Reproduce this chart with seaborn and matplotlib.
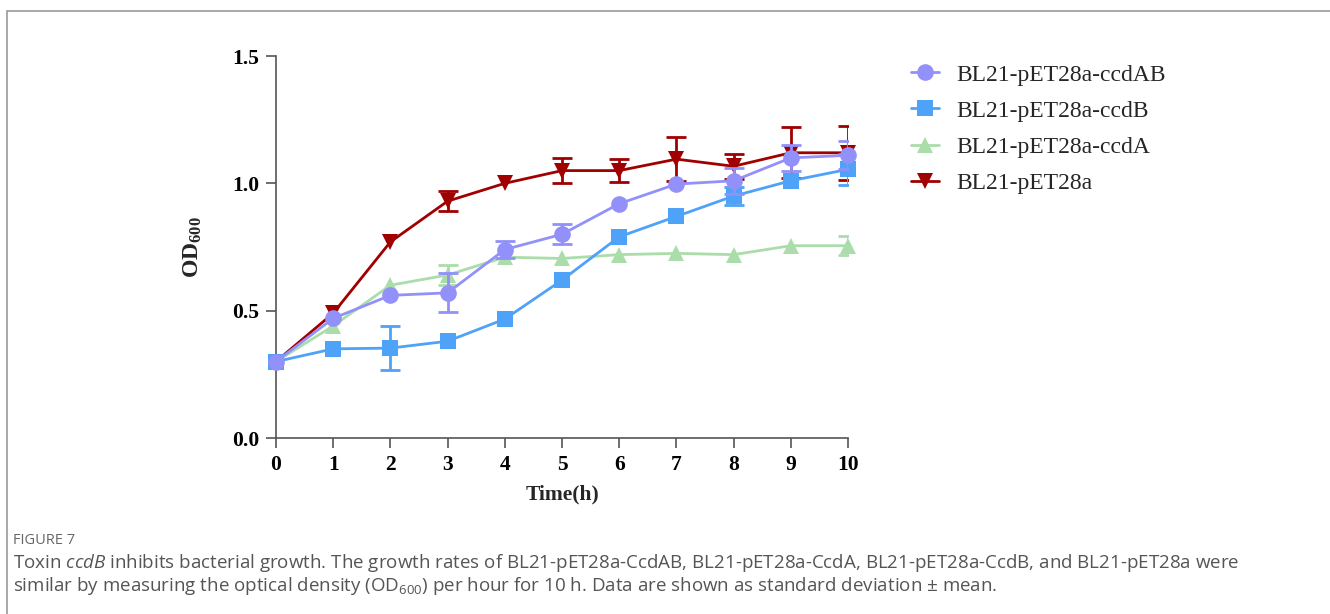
import matplotlib
matplotlib.use("Agg")
from matplotlib import pyplot as plt
import matplotlib.patches as mpatches
import numpy as np
import pandas as pd
import seaborn as sns

# Time points (h)
hours = [0, 1, 2, 3, 4, 5, 6, 7, 8, 9, 10]

# Mean OD600 per strain
od_ccdAB = [0.30, 0.47, 0.56, 0.57, 0.74, 0.80, 0.92, 0.997, 1.01, 1.10, 1.11]
od_ccdB = [0.30, 0.35, 0.353, 0.38, 0.467, 0.62, 0.79, 0.87, 0.95, 1.01, 1.055]
od_ccdA = [0.30, 0.44, 0.60, 0.64, 0.71, 0.705, 0.72, 0.725, 0.72, 0.755, 0.755]
od_pET28a = [0.30, 0.49, 0.77, 0.93, 1.00, 1.05, 1.05, 1.095, 1.067, 1.12, 1.12]

# Standard deviations (0 = no visible bar)
sd_ccdAB = [0, 0, 0, 0.077, 0.033, 0.04, 0, 0, 0.05, 0.05, 0.055]
sd_ccdB = [0, 0, 0.087, 0, 0, 0, 0, 0, 0.035, 0, 0.06]
sd_ccdA = [0, 0, 0, 0.04, 0, 0, 0, 0, 0, 0, 0.037]
sd_pET28a = [0, 0, 0, 0.04, 0, 0.05, 0.045, 0.085, 0.05, 0.10, 0.105]

strains = ["BL21-pET28a-ccdAB", "BL21-pET28a-ccdB", "BL21-pET28a-ccdA", "BL21-pET28a"]
colors = ["#9191F9", "#4EA2F8", "#ABDDAB", "#A00000"]
markers = ["o", "s", "^", "v"]

means = [od_ccdAB, od_ccdB, od_ccdA, od_pET28a]
sds = [sd_ccdAB, sd_ccdB, sd_ccdA, sd_pET28a]

df = pd.concat([pd.DataFrame({"Time": hours, "OD": m, "sd": s, "Strain": name})
                for name, m, s in zip(strains, means, sds)], ignore_index=True)

sns.set_style("ticks")
plt.rcParams["font.family"] = ["Liberation Serif", "DejaVu Serif"]
plt.rcParams["mathtext.fontset"] = "custom"
plt.rcParams["mathtext.rm"] = "Open Sans"
plt.rcParams["mathtext.it"] = "Open Sans:italic"
plt.rcParams["mathtext.bf"] = "Liberation Serif:bold"

fig = plt.figure(figsize=(13.3, 6.14), dpi=100)
ax = fig.add_axes([276 / 1330, 1 - 438 / 614, (848 - 276) / 1330, (438 - 56) / 614])

# draw order: red first, purple last (on top)
for i in [3, 2, 1, 0]:
    sub = df[df["Strain"] == strains[i]]
    has_err = sub["sd"] > 0
    ax.errorbar(sub["Time"][has_err], sub["OD"][has_err], yerr=sub["sd"][has_err],
                fmt="none", ecolor=colors[i], elinewidth=2, capsize=7, capthick=2,
                zorder=2 + (3 - i) * 2)
    sns.lineplot(data=sub, x="Time", y="OD", ax=ax, color=colors[i], marker=markers[i],
                 markersize=12, markeredgewidth=0, linewidth=2, label=strains[i],
                 legend=False, zorder=3 + (3 - i) * 2, clip_on=False)

ax.set_xlim(0, 10)
ax.set_ylim(0, 1.5)
ax.set_xticks(hours)
ax.set_yticks([0.0, 0.5, 1.0, 1.5])
ax.set_yticklabels(["0.0", "0.5", "1.0", "1.5"])
for lab in ax.get_xticklabels() + ax.get_yticklabels():
    lab.set_fontweight("bold")
    lab.set_fontsize(15.5)
ax.tick_params(axis="both", colors="#555555", labelcolor="black", length=7, width=1.2, pad=5)
for side in ["top", "right"]:
    ax.spines[side].set_visible(False)
for side in ["left", "bottom"]:
    ax.spines[side].set_color("#555555")
    ax.spines[side].set_linewidth(1.2)

ax.set_xlabel("Time(h)", fontsize=15.5, fontweight="bold", labelpad=7)
ax.set_ylabel(r"$\mathbf{OD_{600}}$", fontsize=17, labelpad=20)

# legend
handles = [plt.Line2D([], [], color=c, marker=m, markersize=12, markeredgewidth=0, linewidth=2)
           for c, m in zip(colors, markers)]
fig.legend(handles, strains, loc="upper left", bbox_to_anchor=(911 / 1330, 1 - 64 / 614),
           frameon=False, fontsize=17, handlelength=1.2, labelspacing=0.62,
           handletextpad=0.72, borderpad=0, borderaxespad=0)

# outer frame
fig.add_artist(mpatches.Rectangle((7 / 1330, -0.1), 1.2, 1 - 11 / 614 + 0.1,
                                  transform=fig.transFigure, fill=False,
                                  edgecolor="#999999", linewidth=1.2))

# caption
cap_font = ["Open Sans", "DejaVu Sans"]
fig.text(13 / 1330, 1 - 541 / 614, "FIGURE 7", fontsize=10.5, color="#666666",
         family=cap_font, va="center")
fig.text(13 / 1330, 1 - 563 / 614,
         r"Toxin $\mathit{ccdB}$ inhibits bacterial growth. The growth rates of BL21-pET28a-CcdAB, "
         "BL21-pET28a-CcdA, BL21-pET28a-CcdB, and BL21-pET28a were",
         fontsize=13.5, color="#555555", family=cap_font, va="center")
fig.text(13 / 1330, 1 - 586 / 614,
         r"similar by measuring the optical density (OD$_{\mathrm{600}}$) per hour for 10 h. "
         "Data are shown as standard deviation \u00b1 mean.",
         fontsize=13.5, color="#555555", family=cap_font, va="center")

fig.savefig("out.png", dpi=100)
